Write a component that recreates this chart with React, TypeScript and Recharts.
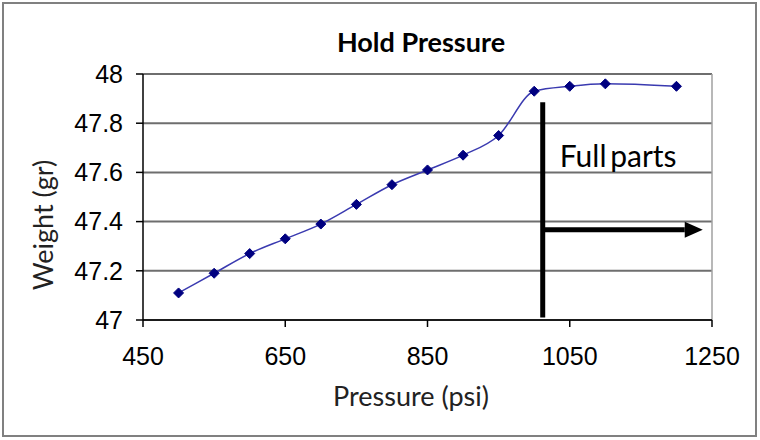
import React from 'react';
import {
  LineChart, Line, XAxis, YAxis, CartesianGrid, ReferenceLine, ReferenceDot, Customized,
} from 'recharts';

const pressure = [500, 550, 600, 650, 700, 750, 800, 850, 900, 950, 1000, 1050, 1100, 1200];
const weight = [47.11, 47.19, 47.27, 47.33, 47.39, 47.47, 47.55, 47.61, 47.67, 47.75, 47.93, 47.95, 47.96, 47.95];
const xTicks = [450, 650, 850, 1050, 1250];
const yTicks = [47, 47.2, 47.4, 47.6, 47.8, 48];

const data = pressure.map((p, i) => ({ p, w: weight[i] }));

const W = 760;
const H = 440;
const TICK_FONT = "'Liberation Sans Narrow', 'Liberation Sans', Arial, sans-serif";

const Diamond = (props: any) => {
  const { cx, cy } = props;
  if (cx == null || cy == null) return null;
  const r = 5;
  return <path d={`M${cx},${cy - r}L${cx + r},${cy}L${cx},${cy + r}L${cx - r},${cy}Z`} fill="#000080" stroke="#000080" />;
};

const Frame = () => (
  <g>
    <rect x={3} y={3} width={753} height={433} fill="none" stroke="#808080" strokeWidth={2} />
    <text x={421} y={52} textAnchor="middle" fontFamily="Lato" fontWeight="bold" fontSize={27} fill="#000">Hold Pressure</text>
    <text x={411} y={406} textAnchor="middle" fontFamily="Lato" fontSize={27} fill="#222">Pressure (psi)</text>
    <text x={0} y={0} transform="translate(53,225) rotate(-90)" textAnchor="middle" fontFamily="Lato" fontSize={27} fill="#222">Weight (gr)</text>
  </g>
);

const ArrowShape = (props: any) => {
  const { x1, y1, x2, y2 } = props;
  if (x1 == null) return null;
  const head = 18;
  return (
    <g>
      <line x1={x1} y1={y1} x2={x2 - head} y2={y2} stroke="#000" strokeWidth={5} />
      <polygon points={`${x2 - head},${y2 - 8} ${x2},${y2} ${x2 - head},${y2 + 8}`} fill="#000" />
    </g>
  );
};

const LabelShape = (props: any) => {
  const { cx, cy } = props;
  if (cx == null) return null;
  return (
    <text x={cx} y={cy} fontFamily="Lato" fontSize={30} fill="#000" wordSpacing={-4}>Full parts</text>
  );
};

export default function App() {
  return (
    <div style={{ position: 'absolute', left: 0, top: 0, width: W, height: H, background: '#fff' }}>
      <LineChart width={W} height={H} data={data} margin={{ top: 74, right: 48, bottom: 0, left: 0 }}>
        <CartesianGrid horizontal vertical={false} stroke="#6e6e6e" strokeWidth={2} />
        <ReferenceLine x={1250} stroke="#a0a0a0" strokeWidth={1.5} />
        <XAxis
          dataKey="p"
          type="number"
          domain={[450, 1250]}
          ticks={xTicks}
          height={120}
          tickSize={7}
          tickMargin={20}
          axisLine={{ stroke: '#000', strokeWidth: 1.5 }}
          tickLine={{ stroke: '#000', strokeWidth: 1.5 }}
          tick={{ fill: '#000', fontFamily: TICK_FONT, fontSize: 25 }}
          interval={0}
        />
        <YAxis
          type="number"
          domain={[47, 48]}
          ticks={yTicks}
          width={143}
          tickSize={7}
          tickMargin={13}
          axisLine={{ stroke: '#000', strokeWidth: 1.5 }}
          tickLine={{ stroke: '#000', strokeWidth: 1.5 }}
          tick={{ fill: '#000', fontFamily: TICK_FONT, fontSize: 25 }}
          interval={0}
        />
        <ReferenceLine segment={[{ x: 1012, y: 47.885 }, { x: 1012, y: 47.01 }]} stroke="#000" strokeWidth={5} />
        <ReferenceLine segment={[{ x: 1012, y: 47.367 }, { x: 1237, y: 47.367 }]} shape={ArrowShape} />
        <ReferenceDot x={1036} y={47.62} shape={LabelShape} />
        <Line
          type="monotone"
          dataKey="w"
          stroke="#3a3ab0"
          strokeWidth={1.5}
          dot={<Diamond />}
          isAnimationActive={false}
        />
        <Customized component={Frame} />
      </LineChart>
    </div>
  );
}
